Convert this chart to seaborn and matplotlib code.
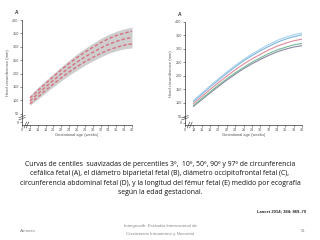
import matplotlib
matplotlib.use("Agg")
import matplotlib.pyplot as plt
import seaborn as sns
import pandas as pd

sns.set_theme(style="white")
plt.rcParams['font.family'] = ['Liberation Sans', 'DejaVu Sans']

# ---- data ----
weeks = [14, 16, 18, 20, 22, 24, 26, 28, 30, 32, 34, 36, 38, 40]
p3  = [87, 112, 137, 161, 184, 206, 226, 244, 260, 275, 288, 298, 306, 311]
p10 = [91, 116, 141, 166, 189, 211, 231, 250, 266, 282, 295, 305, 314, 319]
p50 = [98, 124, 150, 175, 199, 222, 243, 262, 279, 295, 309, 320, 329, 335]
p90 = [105, 132, 159, 184, 209, 233, 255, 274, 292, 308, 323, 335, 344, 351]
p97 = [109, 136, 163, 189, 214, 238, 260, 280, 298, 315, 330, 342, 351, 358]
cloud_lo = [82, 104, 128, 151, 173, 194, 213, 231, 247, 262, 275, 285, 292, 296]
cloud_hi = [118, 148, 174, 200, 226, 250, 273, 294, 313, 331, 346, 358, 367, 373]
x_ticks = [14, 16, 18, 20, 22, 24, 26, 28, 30, 32, 34, 36, 38, 40]
y_ticks = [50, 100, 150, 200, 250, 300, 350, 400]
centile_names = ["3rd", "10th", "50th", "90th", "97th"]

W, H = 320, 240
fig = plt.figure(figsize=(W / 100, H / 100), dpi=100)
fig.patch.set_facecolor("white")

def px_axes(x0, x1, y_top, y_bot):
    return fig.add_axes([x0 / W, 1 - y_bot / H, (x1 - x0) / W, (y_bot - y_top) / H])

def style_axes(ax, ylo, zero_y):
    ax.set_xlim(12, 40)
    ax.set_ylim(ylo, 400)
    ax.set_xticks([12] + x_ticks)
    ax.set_xticklabels(["0"] + [str(t) for t in x_ticks])
    ax.set_yticks([zero_y] + y_ticks)
    ax.set_yticklabels(["0"] + [str(t) for t in y_ticks])
    for s in ["top", "right"]:
        ax.spines[s].set_visible(False)
    for s in ["left", "bottom"]:
        ax.spines[s].set_linewidth(0.5)
        ax.spines[s].set_color("#333333")
    ax.tick_params(axis="both", length=1.5, width=0.4, pad=0.8,
                   labelsize=2.7, labelcolor="#555555", color="#333333",
                   left=True, bottom=True)
    ax.set_xlabel("Gestational age (weeks)", fontsize=2.9, color="#555555", labelpad=0.8)
    ax.set_ylabel("Head circumference (mm)", fontsize=2.9, color="#555555", labelpad=1.5)
    # axis break marks
    for dx in (0.03, 0.05):
        ax.plot([dx - 0.012, dx + 0.012], [-0.03, 0.03], transform=ax.transAxes,
                color="#333333", lw=0.4, clip_on=False)
    for dy in (0.06, 0.08):
        ax.plot([-0.03, 0.03], [dy - 0.012, dy + 0.012], transform=ax.transAxes,
                color="#333333", lw=0.4, clip_on=False)
    ax.set_facecolor("white")

# ---- left panel: scatter cloud + dashed centiles ----
axL = px_axes(22, 132, 20, 125)
axL.fill_between(weeks, cloud_lo, cloud_hi, color="#c9c9c9", lw=0, alpha=0.9)
dfL = pd.DataFrame({"week": weeks * 3, "hc": p3 + p50 + p97,
                    "centile": ["3rd"] * 14 + ["50th"] * 14 + ["97th"] * 14})
sns.lineplot(data=dfL, x="week", y="hc", units="centile", estimator=None,
             color="#d9707e", lw=1.0, dashes=False, ax=axL, legend=False)
for l in axL.get_lines():
    l.set_linestyle((0, (2.5, 1.5)))
style_axes(axL, 8, 18)

# ---- right panel: five smooth centiles ----
axR = px_axes(185, 302, 21.5, 125)
dfR = pd.DataFrame({"week": weeks * 5, "hc": p3 + p10 + p50 + p90 + p97,
                    "centile": [c for c in centile_names for _ in weeks]})
palette = {"3rd": "#8d86a6", "10th": "#76bb95", "50th": "#e08a9c",
           "90th": "#7fb4dc", "97th": "#a9d3ec"}
sns.lineplot(data=dfR, x="week", y="hc", hue="centile", palette=palette,
             lw=0.8, ax=axR, legend=False)
style_axes(axR, 19, 28)

fig.text(17 / W, 1 - 13 / H, "A", fontsize=3.5, fontweight="bold", color="#333333",
         ha="center", va="center")
fig.text(180 / W, 1 - 15 / H, "A", fontsize=3.5, fontweight="bold", color="#333333",
         ha="center", va="center")

# ---- slide text ----
lines = [
    "Curvas de centiles  suavizadas de percentiles 3º,  10º, 50º, 90º y 97º de circunferencia",
    "cefálica fetal (A), el diámetro biparietal fetal (B), diámetro occipitofrontal fetal (C),",
    "circunferencia abdominal fetal (D), y la longitud del fémur fetal (E) medido por ecografía",
    "según la edad gestacional.",
]
for i, t in enumerate(lines):
    fig.text(160 / W, 1 - (164 + i * 9.6) / H, t, fontsize=4.95, color="#111111",
             ha="center", va="center", family=["Open Sans", "DejaVu Sans"])

fig.text(306 / W, 1 - 211 / H, "Lancet 2014; 384: 869–79", fontsize=3.0,
         fontweight="bold", color="#222222", ha="right", va="center")

fig.text(20 / W, 1 - 231 / H, "Amanzo", fontsize=3.2, color="#8a8a8a", ha="left", va="center")
fig.text(160 / W, 1 - 226 / H, "Intergrowth: Estándar Internacional de", fontsize=3.2,
         color="#8a8a8a", ha="center", va="center")
fig.text(160 / W, 1 - 234 / H, "Crecimiento Intrauterino y Neonatal", fontsize=3.2,
         color="#8a8a8a", ha="center", va="center")
fig.text(303 / W, 1 - 231 / H, "51", fontsize=3.2, color="#8a8a8a", ha="center", va="center")

fig.savefig("out.png", dpi=100, facecolor="white")
